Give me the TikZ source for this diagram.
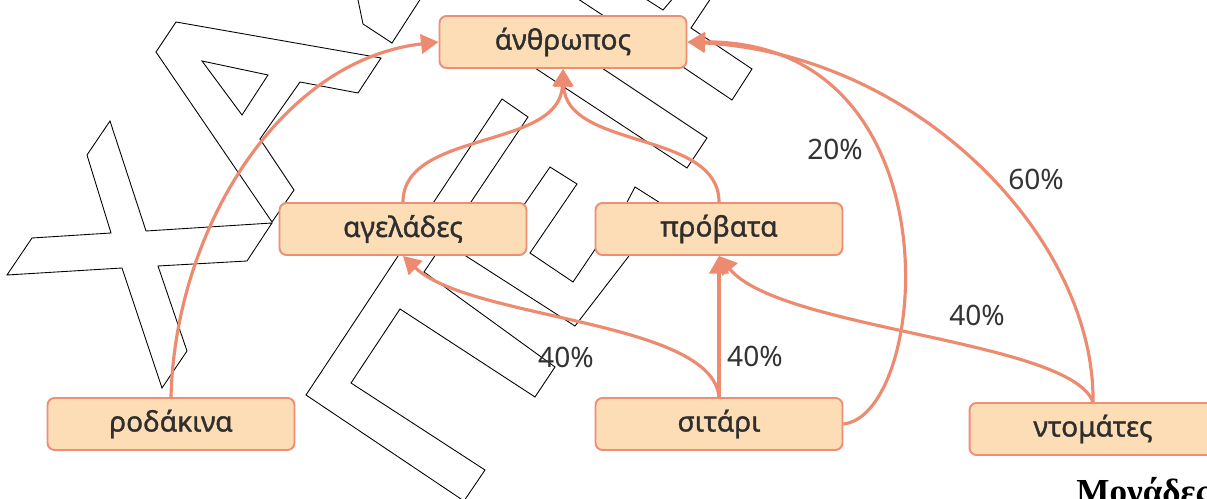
\documentclass[tikz,border=0pt]{standalone}
\usepackage{fontspec}
\setmainfont{Noto Sans}
\newfontfamily\boxfont{Noto Sans}[FakeBold=1.2]
\newfontfamily\serifbold{Liberation Serif}
\usepackage{tikz}
\usetikzlibrary{positioning,calc,arrows.meta}

\definecolor{boxfill}{HTML}{FDDDB6}
\definecolor{boxline}{HTML}{EE8E74}
\definecolor{flowc}{HTML}{EC8B70}
\definecolor{txt}{HTML}{333333}

\begin{document}
\begin{tikzpicture}[x=0.02cm, y=-0.02cm,
    food/.style={draw=boxline, fill=boxfill, line width=1.1pt, rounded corners=4pt,
        minimum width=4.94cm, minimum height=1.04cm, text=txt!90!black,
        font=\boxfont\fontsize{16}{18}\selectfont},
    flow/.style={draw=flowc, line width=1.8pt, -{Triangle[length=10pt,width=11pt]}},
    pct/.style={text=txt, font=\fontsize{16}{18}\selectfont},
    wm/.style={line width=0.5pt}]
    \clip (0,0) rectangle (1207,499);

    % Watermark letters
    \draw[wm] (110,121) -- (87,155) -- (111,233) -- (32,238) -- (7,275) -- (122,268) -- (162,388)
        -- (187,351) -- (158,266) -- (247,261) -- (272,223) -- (146,231) -- cycle;
    \draw[wm] (176,22) -- (156,52) -- (272,222) -- (294,190) -- (260,139) -- (300,82)
        -- (358,93) -- (381,58) -- cycle;
    \draw[wm] (202,61) -- (268,75) -- (242,115) -- cycle;
    \draw[wm] (357,-5) -- (363,24) -- (392,43) -- (423,-5);
    \draw[wm] (500,45) -- (687,168) -- (707,138) -- (545,30) -- cycle;
    \draw[wm] (502,99) -- (528,117) -- (424,272) -- (555,367) -- (535,397) -- (400,309)
        -- (351,383) -- (485,470) -- (464,501) -- (306,395) -- cycle;
    \draw[wm] (515,218) -- (550,167) -- (577,184) -- (530,253) -- (573,282) -- (600,242);
    \draw[wm] (455,249) -- (575,326) -- (632,252);
    \draw[wm] (624,208) -- (635,187) -- (665,206);
    \draw[wm] (575,-3) -- (607,18);
    \draw[wm] (641,-4) -- (663,10) -- (675,-4);
    \draw[wm] (713,-5) -- (691,28) -- (752,69) -- (732,100) -- (680,65);

    % Food boxes
    \node[food] (anth) at (563,42) {άνθρωπος};
    \node[food] (agel) at (403,229) {αγελάδες};
    \node[food] (prob) at (719,229) {πρόβατα};
    \node[food] (rod) at (171,424) {ροδάκινα};
    \node[food] (sit) at (719,424) {σιτάρι};
    \node[food] (ntom) at (1093,429) {ντομάτες};

    % Flows
    \draw[flow] (rod.north) .. controls (175,230) and (280,60) .. (anth.west);
    \draw[flow] (agel.north) .. controls (403,130) and (560,150) .. (anth.south);
    \draw[flow] (prob.north) .. controls (719,130) and (566,150) .. (anth.south);
    \draw[flow] (sit.north) -- (prob.south);
    \draw[flow] (sit.north) .. controls (712,320) and (470,320) .. (agel.south);
    \draw[flow] (ntom.north) .. controls (1070,340) and (780,330) .. (prob.south);
    \draw[flow] (sit.east) .. controls (930,415) and (960,40) .. (anth.east);
    \draw[flow] (ntom.north) .. controls (1095,240) and (920,55) .. (anth.east);

    % Percentages
    \node[pct] (p20) at (835,149) {20\%};
    \node[pct] (p60) at (1036,179) {60\%};
    \node[pct] (p40a) at (566,357) {40\%};
    \node[pct] (p40b) at (755,356) {40\%};
    \node[pct] (p40c) at (977,315) {40\%};

    \node[anchor=base west, inner sep=0pt, font=\serifbold\bfseries\fontsize{20}{24}\selectfont]
        (units) at (1076,504) {Μονάδες};
\end{tikzpicture}
\end{document}
